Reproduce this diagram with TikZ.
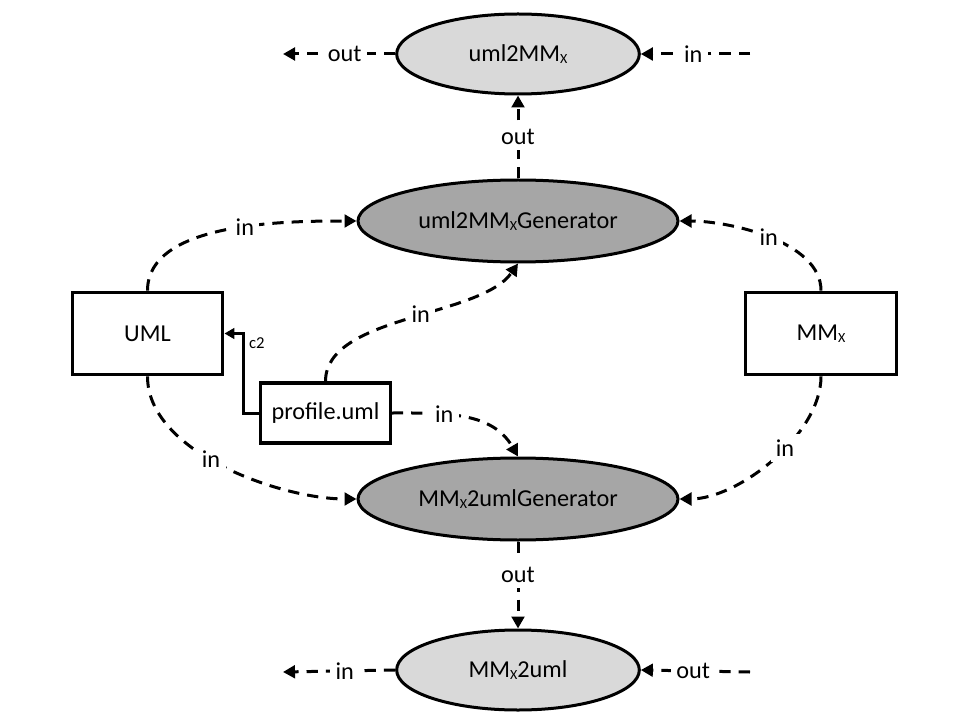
\documentclass[tikz,border=0pt]{standalone}
\usepackage{fontspec}
\setmainfont{Carlito}
\usetikzlibrary{shapes.geometric,arrows.meta}

\definecolor{lightfill}{HTML}{D9D9D9}
\definecolor{darkfill}{HTML}{A6A6A6}

\newcommand{\subX}{\raisebox{-1.3pt}{\fontsize{10.5}{11}\selectfont X}}

\begin{document}
\begin{tikzpicture}[x=0.75pt,y=0.75pt,
  font=\fontsize{18.2}{21}\selectfont,
  every node/.style={inner sep=0pt},
  transform/.style={ellipse,draw,line width=2.25pt,fill=lightfill,
    minimum width=182pt,minimum height=60pt},
  generator/.style={ellipse,draw,line width=2.25pt,fill=darkfill,
    minimum width=240pt,minimum height=61.5pt},
  model/.style={rectangle,draw,line width=2.4pt,fill=white,
    minimum width=113pt,minimum height=62pt},
  smallmodel/.style={rectangle,draw,line width=2.4pt,fill=white,
    minimum width=97pt,minimum height=45pt},
  flow/.style={draw,line width=2.25pt,dash pattern=on 8.5pt off 6pt,
    -{Triangle[length=9pt,width=9.5pt]}},
  conf/.style={draw,line width=2.25pt,-{Triangle[length=7.5pt,width=8pt]}},
  lbl/.style={fill=white,inner sep=4pt}]

\useasboundingbox (0,0) rectangle (960,-720);

% transformations and their generators
\node[transform] (uml2mmx) at (518,-54) {uml2MM\subX};
\node[generator] (gen1) at (518,-221) {uml2MM\subX Generator};
\node[generator] (gen2) at (518,-499) {MM\subX 2umlGenerator};
\node[transform] (mmx2uml) at (518,-670) {MM\subX 2uml};

% models
\node[model] (umlbox) at (147.5,-333.5) {UML};
\node[model] (mmxbox) at (821,-333.5) {MM\subX};
\node[smallmodel] (prof) at (325.5,-413) {profile.uml};

% free ends of the transformation flows
\coordinate (tlout) at (283,-54);
\coordinate (trin) at (750,-54);
\coordinate (blin) at (283,-672);
\coordinate (brout) at (750,-672);
\coordinate (bend) at (243,-413);

% inputs of the generators
\path[flow] (umlbox.north) to[out=90,in=180,looseness=0.8] node[lbl,pos=0.57] {in} (gen1.west);
\path[flow] (mmxbox.north) to[out=90,in=0,looseness=0.8] node[lbl,pos=0.5] {in} (gen1.east);
\path[flow] (prof.north) to[out=90,in=-125,looseness=0.75] node[lbl,pos=0.55] {in} (gen1.south);
\path[flow] (prof.east) to[out=0,in=120] node[lbl,pos=0.35] {in} (gen2.north);
\path[flow] (umlbox.south) to[out=-90,in=180,looseness=0.8] node[lbl,pos=0.45] {in} (gen2.west);
\path[flow] (mmxbox.south) to[out=-90,in=0,looseness=0.8] node[lbl,pos=0.42] {in} (gen2.east);

% generator outputs
\path[flow] (gen1.north) -- node[lbl,pos=0.5] {out} (uml2mmx.south);
\path[flow] (gen2.south) -- node[lbl,pos=0.38] {out} (mmx2uml.north);

% transformation inputs and outputs
\path[flow] (uml2mmx.west) -- node[lbl,pos=0.45] {out} (tlout);
\path[flow] (trin) -- node[lbl,pos=0.52] {in} (uml2mmx.east);
\path[flow] (mmx2uml.west) -- node[lbl,pos=0.45] {in} (blin);
\path[flow] (brout) -- node[lbl,pos=0.52] {out} (mmx2uml.east);

% profile applied to UML
\path[conf] (prof.west) -- (bend) |- (umlbox.east)
  node[pos=0.5,anchor=north west,xshift=3.5pt,yshift=-2pt,font=\fontsize{12.5}{14}\selectfont] {c2};

\end{tikzpicture}
\end{document}
